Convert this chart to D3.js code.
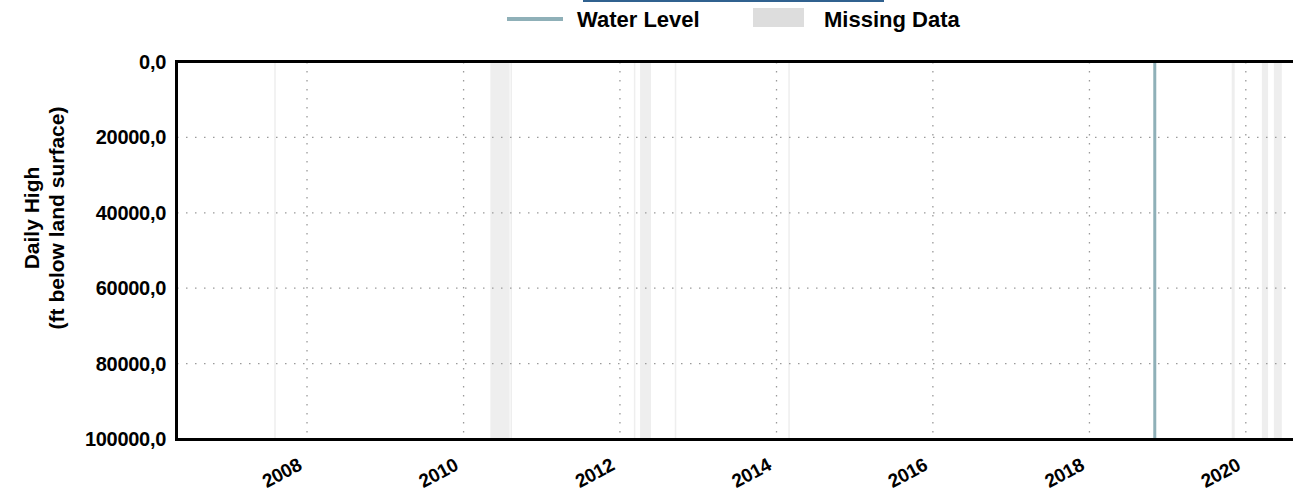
<!DOCTYPE html>
<html><head><meta charset="utf-8">
<script src="https://cdn.jsdelivr.net/npm/d3@7"></script>
<style>
html,body{margin:0;padding:0;background:#fff;overflow:hidden}
text{font-family:"Liberation Sans",Arial,sans-serif;font-weight:bold;fill:#000}
</style></head>
<body><svg id="chart" width="1293" height="495"></svg>
<script>
// ---- data ----
const xDomain = ["2006-05-04", "2020-09-10"];
const yTicks = [0, 20000, 40000, 60000, 80000, 100000];
const yearTicks = [2008, 2010, 2012, 2014, 2016, 2018, 2020];
const waterDates = ["2018-11-02", "2018-11-02"];
const waterValues = [0, 100000];
const missingStart = ["2007-08-01","2010-05-06","2010-08-08","2012-03-06","2012-04-04","2012-09-13","2014-02-25","2019-10-27","2020-03-16","2020-05-11"];
const missingEnd   = ["2007-08-06","2010-08-04","2010-08-13","2012-03-10","2012-05-25","2012-09-17","2014-03-01","2019-11-10","2020-04-14","2020-06-17"];
const yTitle = ["Daily High", "(ft below land surface)"];
const legendLabels = ["Water Level", "Missing Data"];

// ---- layout ----
const svg = d3.select("#chart");
const L = 177, T = 62, B = 439, R = 1300;
const parse = d3.utcParse("%Y-%m-%d");
const x = d3.scaleUtc().domain(xDomain.map(parse)).range([L, R]);
const y = d3.scaleLinear().domain([0, 100000]).range([T, B]);
const fmt = v => d3.format(".1f")(v).replace(".", ",");

// top blue bar
svg.append("rect").attr("x", 583).attr("y", 0).attr("width", 301).attr("height", 2).attr("fill", "#30618f");

// missing data bands
svg.append("g").selectAll("rect").data(missingStart.map((s, i) => [parse(s), parse(missingEnd[i])]))
  .join("rect")
  .attr("x", d => x(d[0])).attr("width", d => Math.max(1.5, x(d[1]) - x(d[0])))
  .attr("y", T).attr("height", B - T).attr("fill", "#eeeeee");

// grid
const grid = svg.append("g").attr("stroke", "#9a9a9a").attr("stroke-width", 1.3).attr("stroke-dasharray", "1.5,7.5");
grid.selectAll("line.h").data(yTicks.slice(1, -1)).join("line").attr("class", "h")
  .attr("x1", L).attr("x2", R).attr("y1", d => y(d)).attr("y2", d => y(d));
grid.selectAll("line.v").data(yearTicks).join("line").attr("class", "v")
  .attr("x1", d => x(Date.UTC(d, 0, 1))).attr("x2", d => x(Date.UTC(d, 0, 1))).attr("y1", T).attr("y2", B);

// water level
const line = d3.line().x(d => x(d[0])).y(d => y(d[1]));
svg.append("path").datum(waterDates.map((d, i) => [parse(d), waterValues[i]]))
  .attr("d", line).attr("fill", "none").attr("stroke", "#8fb0b8").attr("stroke-width", 3);

// frame
svg.append("rect").attr("x", L - 0.5).attr("y", T - 0.5).attr("width", R - L + 10).attr("height", B - T + 1)
  .attr("fill", "none").attr("stroke", "#000").attr("stroke-width", 3);

// y tick labels
svg.append("g").selectAll("text").data(yTicks).join("text")
  .attr("x", L - 11).attr("y", d => y(d)).attr("dy", "0.35em").attr("text-anchor", "end")
  .attr("font-size", 20).attr("letter-spacing", "-0.3").text(fmt);

// x tick labels
svg.append("g").selectAll("text").data(yearTicks).join("text")
  .attr("transform", d => `translate(${x(Date.UTC(d, 0, 1)) - 4},469) rotate(-28)`)
  .attr("text-anchor", "end").attr("font-size", 19).attr("letter-spacing", "-0.3").text(d => d);

// y title
const yt = svg.append("text").attr("transform", `translate(44,218) rotate(-90)`)
  .attr("text-anchor", "middle").attr("font-size", 21);
yt.selectAll("tspan").data(yTitle).join("tspan").attr("x", 0).attr("dy", (d, i) => i ? "1.2em" : "-0.25em").text(d => d);

// legend
const lg = svg.append("g");
lg.append("line").attr("x1", 507).attr("x2", 563).attr("y1", 19).attr("y2", 19).attr("stroke", "#8fb0b8").attr("stroke-width", 4);
lg.append("text").attr("x", 577).attr("y", 19).attr("dy", "0.35em").attr("font-size", 22).text(legendLabels[0]);
lg.append("rect").attr("x", 753).attr("y", 8).attr("width", 51).attr("height", 19).attr("fill", "#dddddd");
lg.append("text").attr("x", 824).attr("y", 19).attr("dy", "0.35em").attr("font-size", 22).text(legendLabels[1]);
</script></body></html>
